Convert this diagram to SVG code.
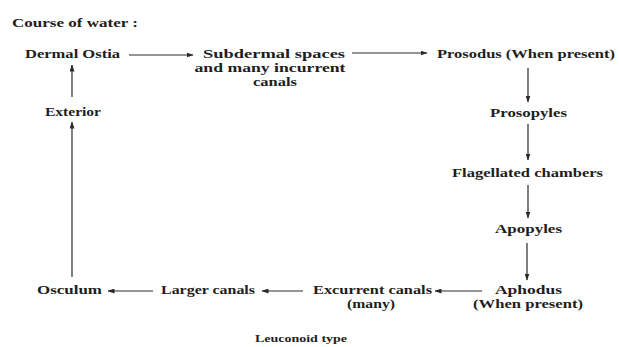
<svg xmlns="http://www.w3.org/2000/svg" width="619" height="347" viewBox="0 0 619 347">
<defs>
<style>
text{font-family:"Liberation Serif","DejaVu Serif",serif;font-weight:bold;font-size:12px;fill:#1e1e1e}
.c{text-anchor:middle}
.s{font-size:10px}
.edge{stroke:#2a2a2a;stroke-width:1.2;fill:none;marker-end:url(#ah)}
</style>
<marker id="ah" markerWidth="7" markerHeight="5" refX="6.5" refY="2.5" orient="auto" markerUnits="userSpaceOnUse">
<path d="M0,0 L7,2.5 L0,5 z" fill="#2a2a2a"/>
</marker>
</defs>
<rect width="619" height="347" fill="#ffffff"/>
<text x="12" y="27" textLength="126" lengthAdjust="spacingAndGlyphs">Course of water :</text>
<g id="connectors">
<path class="edge" d="M129,55 H193"/>
<path class="edge" d="M352,53 H427"/>
<path class="edge" d="M528,68 V102"/>
<path class="edge" d="M528,124 V160"/>
<path class="edge" d="M528,185 V218"/>
<path class="edge" d="M527,243 V280"/>
<path class="edge" d="M482,291 H435"/>
<path class="edge" d="M303,291 H262"/>
<path class="edge" d="M153,291 H108"/>
<path class="edge" d="M72,277 V122"/>
<path class="edge" d="M72,97 V65"/>
</g>
<g id="dermal-ostia"><text x="25" y="58" textLength="95" lengthAdjust="spacingAndGlyphs">Dermal Ostia</text></g>
<g id="subdermal">
<text class="c" x="274" y="58" textLength="142" lengthAdjust="spacingAndGlyphs">Subdermal spaces</text>
<text class="c" x="270" y="72" textLength="151" lengthAdjust="spacingAndGlyphs">and many incurrent</text>
<text class="c" x="275" y="86" textLength="44" lengthAdjust="spacingAndGlyphs">canals</text>
</g>
<g id="prosodus"><text x="437" y="58" textLength="178" lengthAdjust="spacingAndGlyphs">Prosodus (When present)</text></g>
<g id="prosopyles"><text x="490" y="117" textLength="77" lengthAdjust="spacingAndGlyphs">Prosopyles</text></g>
<g id="flagellated"><text x="452" y="177" textLength="151" lengthAdjust="spacingAndGlyphs">Flagellated chambers</text></g>
<g id="apopyles"><text x="495" y="233" textLength="67" lengthAdjust="spacingAndGlyphs">Apopyles</text></g>
<g id="aphodus">
<text x="495" y="294" textLength="67" lengthAdjust="spacingAndGlyphs">Aphodus</text>
<text x="473" y="308" textLength="110" lengthAdjust="spacingAndGlyphs">(When present)</text>
</g>
<g id="excurrent">
<text x="313" y="294" textLength="119" lengthAdjust="spacingAndGlyphs">Excurrent canals</text>
<text x="347" y="308" textLength="48" lengthAdjust="spacingAndGlyphs">(many)</text>
</g>
<g id="larger"><text x="161" y="294" textLength="94" lengthAdjust="spacingAndGlyphs">Larger canals</text></g>
<g id="osculum"><text x="37" y="294" textLength="65" lengthAdjust="spacingAndGlyphs">Osculum</text></g>
<g id="exterior"><text x="45" y="116" textLength="56" lengthAdjust="spacingAndGlyphs">Exterior</text></g>
<text class="s" x="255" y="342" textLength="92" lengthAdjust="spacingAndGlyphs">Leuconoid type</text>
</svg>
